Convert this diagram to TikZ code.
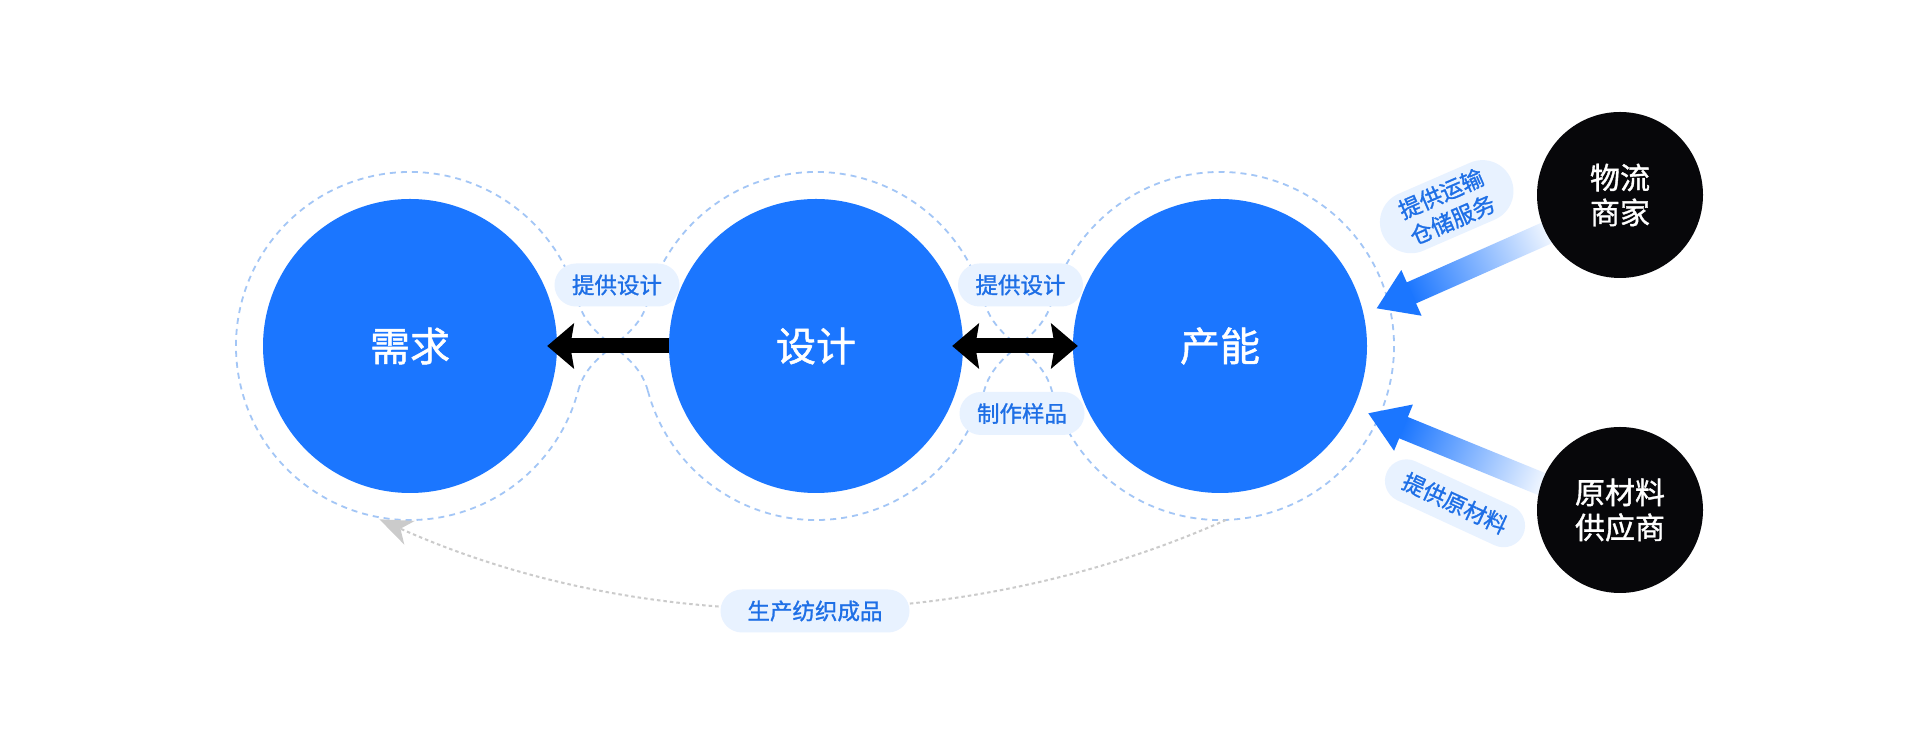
\documentclass[tikz,border=0pt]{standalone}
\usepackage{fontspec}
\setmainfont{Noto Sans CJK SC}
\newfontfamily\cjkm{Noto Sans CJK SC}[FakeBold=1.2]
\usetikzlibrary{arrows.meta,calc}
\definecolor{cblue}{HTML}{1B76FF}
\definecolor{cring}{HTML}{A3C6F6}
\definecolor{cpill}{HTML}{E8F2FF}
\definecolor{ctext}{HTML}{1E6FE6}
\definecolor{cgray}{HTML}{CBCBCB}
\definecolor{cdark}{HTML}{07070A}
\begin{document}
\begin{tikzpicture}[x=1pt,y=1pt,
  bigc/.style={circle,fill=cblue,minimum size=294pt,inner sep=0pt,text=white,font=\cjkm\fontsize{40}{48}\selectfont},
  darkc/.style={circle,fill=cdark,minimum size=166pt,inner sep=0pt,text=white,align=center,font=\cjkm\fontsize{30}{35}\selectfont},
  pill/.style={rectangle,rounded corners=21.5pt,fill=cpill,text=ctext,minimum width=125pt,minimum height=43pt,inner sep=0pt,align=center,font=\cjkm\fontsize{22.5}{28.5}\selectfont},
  ring/.style={draw=cring,line width=1.8pt,dash pattern=on 6pt off 5pt},
  blk/.style={draw=black,line width=15pt},
  blktip/.tip={Stealth[length=27pt,width=46pt,inset=4pt,line width=0pt]},
  gline/.style={draw=cgray,fill=none,line width=2pt,dash pattern=on 3.5pt off 3pt},
  gtip/.tip={Stealth[length=33pt,width=26pt,inset=10pt,line width=0pt,fill=cgray]}
]
\useasboundingbox (0,0) rectangle (1920,743);
\fill[white] (0,0) rectangle (1920,743);

% centres
\coordinate (xqc) at (410,397);
\coordinate (sjc) at (816,397);
\coordinate (cnc) at (1220,397);

% dashed rings
\draw[ring] (xqc) ++(15:174) arc[start angle=15,end angle=345,radius=174];
\draw[ring] (sjc) ++(15:174) arc[start angle=15,end angle=165,radius=174];
\draw[ring] (sjc) ++(195:174) arc[start angle=195,end angle=345,radius=174];
\draw[ring] (cnc) ++(195:174) arc[start angle=195,end angle=525,radius=174];
\draw[ring] ($(xqc)+(15:174)$) to[out=-75,in=105] ($(sjc)+(195:174)$);
\draw[ring] ($(sjc)+(165:174)$) to[out=-105,in=75] ($(xqc)+(345:174)$);
\draw[ring] ($(sjc)+(15:174)$) to[out=-75,in=105] ($(cnc)+(195:174)$);
\draw[ring] ($(cnc)+(165:174)$) to[out=-105,in=75] ($(sjc)+(345:174)$);

% main circles
\node[bigc] (xq) at (xqc) {需求};
\node[bigc] (sj) at (sjc) {设计};
\node[bigc] (cn) at (cnc) {产能};

% black arrows
\draw[blk,-blktip,shorten >=-10pt] (sj.west) -- (xq.east);
\draw[blk,blktip-blktip,shorten <=-11pt,shorten >=-5pt] (sj.east) -- (cn.west);

% gray return arc
\coordinate (gs) at ($(cnc)+(272:174)$);
\coordinate (ge) at ($(xqc)+(260:176)$);
\draw[gline,-gtip] (gs) to[out=204,in=-24,looseness=0.88] (ge);

% gradient arrows
\coordinate (t1) at (1376.7,434.7);
\coordinate (t2) at (1368.3,329.7);
\begin{scope}[transform canvas={shift={(t1)},rotate=23.9}]
  \shade[left color=cblue,right color=cblue!4] (37,11.5) rectangle (192,-11.5);
  \fill[cblue] (0,0) -- (38,25) -- (38,-25) -- cycle;
\end{scope}
\begin{scope}[transform canvas={shift={(t2)},rotate=-22.2}]
  \shade[left color=cblue,right color=cblue!4] (37,11.5) rectangle (192,-11.5);
  \fill[cblue] (0,0) -- (38,25) -- (38,-25) -- cycle;
\end{scope}

% dark circles
\node[darkc] (wl) at (1620,548) {物流\\商家};
\node[darkc] (ycl) at (1620,233) {原材料\\供应商};

% labels
\node[pill] (l1) at (617,458) {提供设计};
\node[pill] (l2) at (1020.5,458) {提供设计};
\node[pill] (l3) at (1022,329.5) {制作样品};
\node[pill,minimum width=189pt] (l4) at (815,132) {生产纺织成品};
\node[pill,rotate=23.5,minimum width=140pt,minimum height=62pt,rounded corners=31pt] (l5) at (1446.7,536.3) {提供运输\\仓储服务};
\node[pill,rotate=-24.8,minimum width=150pt] (l6) at (1455,239.7) {提供原材料};
\end{tikzpicture}
\end{document}
